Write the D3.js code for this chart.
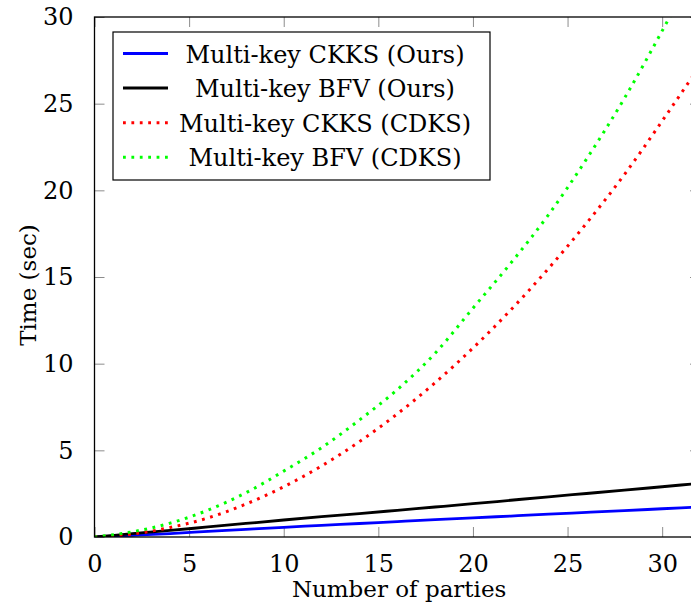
<!DOCTYPE html>
<html>
<head>
<meta charset="utf-8">
<script src="https://cdn.jsdelivr.net/npm/d3@7"></script>
<style>
body { margin: 0; background: #fff; }
svg { display: block; }
svg text { font-family: "DejaVu Serif", serif !important; fill: #000; }
.tick line { stroke: #8c8c8c; }
</style>
</head>
<body>
<svg id="chart" width="691" height="606"></svg>
<script>

/// Number of parties on the x axis
var parties = [0, 2, 4, 6, 8, 10, 12, 14, 16, 18, 20, 22, 24, 26, 28, 30, 32];

/// Time (sec)
var ckksOurs = [0, 0.1, 0.2, 0.32, 0.44, 0.56, 0.67, 0.78, 0.89, 1.0, 1.1, 1.21, 1.32, 1.42, 1.52, 1.63, 1.74];
var bfvOurs  = [0, 0.19, 0.38, 0.58, 0.78, 0.98, 1.17, 1.35, 1.54, 1.73, 1.92, 2.12, 2.32, 2.51, 2.7, 2.9, 3.1];
var ckksCdks = [0, 0.17, 0.55, 1.1, 1.9, 2.9, 4.1, 5.5, 7.1, 8.9, 10.9, 13.1, 15.5, 18.1, 20.9, 24.0, 27.2];
var bfvCdks  = [0, 0.3, 0.8, 1.55, 2.55, 3.8, 5.15, 6.75, 8.5, 10.6, 13.2, 15.8, 18.6, 21.8, 25.3, 29.2, 33.3];

var xTicks = [0, 5, 10, 15, 20, 25, 30];
var yTicks = [0, 5, 10, 15, 20, 25, 30];

var seriesNames = ["Multi-key CKKS (Ours)", "Multi-key BFV (Ours)", "Multi-key CKKS (CDKS)", "Multi-key BFV (CDKS)"];
var seriesColors = ["#0000ff", "#000000", "#ff0000", "#00ff00"];
var seriesDotted = [false, false, true, true];
var seriesValues = [ckksOurs, bfvOurs, ckksCdks, bfvCdks];

var svg = d3.select("#chart"),
    margin = {top: 17, right: -9, bottom: 69, left: 94.5},
    width = +svg.attr("width") - margin.left - margin.right,
    height = +svg.attr("height") - margin.top - margin.bottom;

var g = svg.append("g").attr("transform", "translate(" + margin.left + "," + margin.top + ")");

var x = d3.scaleLinear().domain([0, 32]).range([0, width]);
var y = d3.scaleLinear().domain([0, 30]).range([height, 0]);

/// clip to the plot box
svg.append("defs").append("clipPath").attr("id", "clip")
  .append("rect").attr("width", width).attr("height", height);

/// Ticks point inward, on all four sides
var tickLen = 10;
g.append("g")
    .attr("transform", "translate(0," + height + ")")
    .call(d3.axisBottom(x).tickValues(xTicks).tickSizeInner(-tickLen).tickSizeOuter(0).tickPadding(18))
    .call(function(a) { a.select(".domain").remove(); a.selectAll("text").attr("font-size", 24); });

g.append("g")
    .call(d3.axisTop(x).tickValues(xTicks).tickSizeInner(-tickLen).tickSizeOuter(0).tickFormat(""))
    .call(function(a) { a.select(".domain").remove(); });

g.append("g")
    .call(d3.axisLeft(y).tickValues(yTicks).tickSizeInner(-tickLen).tickSizeOuter(0).tickPadding(21))
    .call(function(a) { a.select(".domain").remove(); a.selectAll("text").attr("font-size", 24); });

g.append("g")
    .attr("transform", "translate(" + width + ",0)")
    .call(d3.axisRight(y).tickValues(yTicks).tickSizeInner(-tickLen).tickSizeOuter(0).tickFormat(""))
    .call(function(a) { a.select(".domain").remove(); });

/// Lines
var line = d3.line()
    .x(function(d, i) { return x(parties[i]); })
    .y(function(d) { return y(d); })
    .curve(d3.curveMonotoneX);

var plot = g.append("g").attr("clip-path", "url(#clip)");
seriesValues.forEach(function(vals, k) {
  plot.append("path")
      .datum(vals)
      .attr("fill", "none")
      .attr("stroke", seriesColors[k])
      .attr("stroke-width", seriesDotted[k] ? 3 : 2.8)
      .attr("stroke-dasharray", seriesDotted[k] ? "2.8,5.6" : null)
      .attr("d", line);
});

/// Frame
g.append("rect")
    .attr("width", width).attr("height", height)
    .attr("fill", "none").attr("stroke", "#000").attr("stroke-width", 1.3);

/// Legend
var legend = svg.append("g").attr("transform", "translate(113,32)");
legend.append("rect")
    .attr("width", 377).attr("height", 148)
    .attr("fill", "#fff").attr("stroke", "#000").attr("stroke-width", 1.2);

seriesNames.forEach(function(name, k) {
  var yy = 21.5 + k * 34.6;
  legend.append("line")
      .attr("x1", 10).attr("x2", 55).attr("y1", yy).attr("y2", yy)
      .attr("stroke", seriesColors[k])
      .attr("stroke-width", 3)
      .attr("stroke-dasharray", seriesDotted[k] ? "2.8,5.6" : null);
  legend.append("text")
      .attr("x", 212).attr("y", yy + 9)
      .attr("text-anchor", "middle")
      .attr("font-size", 24)
      .text(name);
});

/// Axis titles
svg.append("text")
    .attr("x", margin.left + x(16.1)).attr("y", 597)
    .attr("text-anchor", "middle").attr("font-size", 23)
    .text("Number of parties");

svg.append("text")
    .attr("transform", "translate(36," + (margin.top + height / 2 + 8) + ") rotate(-90)")
    .attr("text-anchor", "middle").attr("font-size", 23)
    .text("Time (sec)");

</script>
</body>
</html>
